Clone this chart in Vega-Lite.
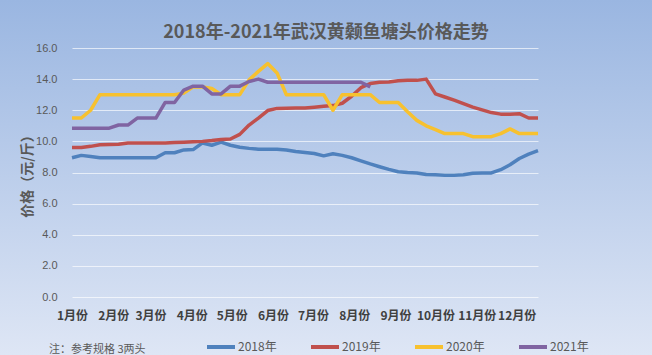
{
  "$schema": "https://vega.github.io/schema/vega-lite/v6.json",
  "width": 652,
  "height": 355,
  "autosize": {"type": "none"},
  "padding": 0,
  "background": "#c4d3ed",
  "title": {
    "text": "2018年-2021年武汉黄颡鱼塘头价格走势",
    "font": "Noto Sans CJK SC",
    "fontSize": 18,
    "fontWeight": "bold",
    "color": "#595959",
    "anchor": "middle",
    "offset": -42
  },
  "config": {
    "font": "Noto Sans CJK SC",
    "view": {
      "stroke": null,
      "fill": {
        "gradient": "linear",
        "x1": 0, "y1": 0, "x2": 0, "y2": 1,
        "stops": [
          {"offset": 0, "color": "#9ab6e1"},
          {"offset": 1, "color": "#dee6f5"}
        ]
      }
    }
  },
  "data": {
    "values": [
      {"d":0,"y":"2018年","p":8.95},{"d":7,"y":"2018年","p":9.1},{"d":14,"y":"2018年","p":9.03},{"d":21,"y":"2018年","p":8.95},{"d":28,"y":"2018年","p":8.95},{"d":35,"y":"2018年","p":8.95},{"d":42,"y":"2018年","p":8.95},{"d":49,"y":"2018年","p":8.95},{"d":56,"y":"2018年","p":8.95},{"d":63,"y":"2018年","p":8.95},
      {"d":70,"y":"2018年","p":9.27},{"d":77,"y":"2018年","p":9.27},{"d":84,"y":"2018年","p":9.45},{"d":91,"y":"2018年","p":9.47},{"d":98,"y":"2018年","p":9.9},{"d":105,"y":"2018年","p":9.75},{"d":112,"y":"2018年","p":9.95},{"d":119,"y":"2018年","p":9.75},{"d":126,"y":"2018年","p":9.62},{"d":133,"y":"2018年","p":9.55},
      {"d":140,"y":"2018年","p":9.5},{"d":147,"y":"2018年","p":9.5},{"d":154,"y":"2018年","p":9.5},{"d":161,"y":"2018年","p":9.45},{"d":168,"y":"2018年","p":9.35},{"d":175,"y":"2018年","p":9.28},{"d":182,"y":"2018年","p":9.22},{"d":189,"y":"2018年","p":9.07},{"d":196,"y":"2018年","p":9.2},{"d":203,"y":"2018年","p":9.1},
      {"d":210,"y":"2018年","p":8.95},{"d":217,"y":"2018年","p":8.75},{"d":224,"y":"2018年","p":8.55},{"d":231,"y":"2018年","p":8.37},{"d":238,"y":"2018年","p":8.2},{"d":245,"y":"2018年","p":8.05},{"d":252,"y":"2018年","p":8.0},{"d":259,"y":"2018年","p":7.97},{"d":266,"y":"2018年","p":7.87},{"d":273,"y":"2018年","p":7.85},
      {"d":280,"y":"2018年","p":7.82},{"d":287,"y":"2018年","p":7.82},{"d":294,"y":"2018年","p":7.85},{"d":301,"y":"2018年","p":7.95},{"d":308,"y":"2018年","p":7.97},{"d":315,"y":"2018年","p":7.97},{"d":322,"y":"2018年","p":8.18},{"d":329,"y":"2018年","p":8.5},{"d":336,"y":"2018年","p":8.9},{"d":343,"y":"2018年","p":9.18},{"d":350,"y":"2018年","p":9.4},

      {"d":0,"y":"2019年","p":9.6},{"d":7,"y":"2019年","p":9.6},{"d":14,"y":"2019年","p":9.68},{"d":21,"y":"2019年","p":9.78},{"d":28,"y":"2019年","p":9.8},{"d":35,"y":"2019年","p":9.82},{"d":42,"y":"2019年","p":9.9},{"d":49,"y":"2019年","p":9.9},{"d":56,"y":"2019年","p":9.9},{"d":63,"y":"2019年","p":9.9},
      {"d":70,"y":"2019年","p":9.9},{"d":77,"y":"2019年","p":9.92},{"d":84,"y":"2019年","p":9.95},{"d":91,"y":"2019年","p":9.97},{"d":98,"y":"2019年","p":10.0},{"d":105,"y":"2019年","p":10.05},{"d":112,"y":"2019年","p":10.12},{"d":119,"y":"2019年","p":10.15},{"d":126,"y":"2019年","p":10.45},{"d":133,"y":"2019年","p":11.05},
      {"d":140,"y":"2019年","p":11.5},{"d":147,"y":"2019年","p":11.98},{"d":154,"y":"2019年","p":12.12},{"d":161,"y":"2019年","p":12.13},{"d":168,"y":"2019年","p":12.15},{"d":175,"y":"2019年","p":12.15},{"d":182,"y":"2019年","p":12.2},{"d":189,"y":"2019年","p":12.25},{"d":196,"y":"2019年","p":12.3},{"d":203,"y":"2019年","p":12.45},
      {"d":210,"y":"2019年","p":12.9},{"d":217,"y":"2019年","p":13.45},{"d":224,"y":"2019年","p":13.72},{"d":231,"y":"2019年","p":13.8},{"d":238,"y":"2019年","p":13.82},{"d":245,"y":"2019年","p":13.9},{"d":252,"y":"2019年","p":13.92},{"d":259,"y":"2019年","p":13.92},{"d":266,"y":"2019年","p":14.0},{"d":273,"y":"2019年","p":13.05},
      {"d":280,"y":"2019年","p":12.85},{"d":287,"y":"2019年","p":12.65},{"d":294,"y":"2019年","p":12.42},{"d":301,"y":"2019年","p":12.2},{"d":308,"y":"2019年","p":12.02},{"d":315,"y":"2019年","p":11.85},{"d":322,"y":"2019年","p":11.75},{"d":329,"y":"2019年","p":11.75},{"d":336,"y":"2019年","p":11.78},{"d":343,"y":"2019年","p":11.5},{"d":350,"y":"2019年","p":11.5},

      {"d":0,"y":"2020年","p":11.5},{"d":7,"y":"2020年","p":11.5},{"d":14,"y":"2020年","p":12.0},{"d":21,"y":"2020年","p":13.0},{"d":28,"y":"2020年","p":13.0},{"d":35,"y":"2020年","p":13.0},{"d":42,"y":"2020年","p":13.0},{"d":49,"y":"2020年","p":13.0},{"d":56,"y":"2020年","p":13.0},{"d":63,"y":"2020年","p":13.0},
      {"d":70,"y":"2020年","p":13.0},{"d":77,"y":"2020年","p":13.0},{"d":84,"y":"2020年","p":13.1},{"d":91,"y":"2020年","p":13.5},{"d":98,"y":"2020年","p":13.5},{"d":105,"y":"2020年","p":13.4},{"d":112,"y":"2020年","p":13.0},{"d":119,"y":"2020年","p":13.0},{"d":126,"y":"2020年","p":13.0},{"d":133,"y":"2020年","p":13.95},
      {"d":140,"y":"2020年","p":14.5},{"d":147,"y":"2020年","p":15.0},{"d":154,"y":"2020年","p":14.4},{"d":161,"y":"2020年","p":13.0},{"d":168,"y":"2020年","p":13.0},{"d":175,"y":"2020年","p":13.0},{"d":182,"y":"2020年","p":13.0},{"d":189,"y":"2020年","p":13.0},{"d":196,"y":"2020年","p":12.0},{"d":203,"y":"2020年","p":13.0},
      {"d":210,"y":"2020年","p":13.0},{"d":217,"y":"2020年","p":13.0},{"d":224,"y":"2020年","p":13.0},{"d":231,"y":"2020年","p":12.5},{"d":238,"y":"2020年","p":12.5},{"d":245,"y":"2020年","p":12.5},{"d":252,"y":"2020年","p":11.9},{"d":259,"y":"2020年","p":11.35},{"d":266,"y":"2020年","p":11.0},{"d":273,"y":"2020年","p":10.75},
      {"d":280,"y":"2020年","p":10.5},{"d":287,"y":"2020年","p":10.5},{"d":294,"y":"2020年","p":10.5},{"d":301,"y":"2020年","p":10.3},{"d":308,"y":"2020年","p":10.3},{"d":315,"y":"2020年","p":10.3},{"d":322,"y":"2020年","p":10.5},{"d":329,"y":"2020年","p":10.8},{"d":336,"y":"2020年","p":10.5},{"d":343,"y":"2020年","p":10.5},{"d":350,"y":"2020年","p":10.5},

      {"d":0,"y":"2021年","p":10.85},{"d":7,"y":"2021年","p":10.85},{"d":14,"y":"2021年","p":10.85},{"d":21,"y":"2021年","p":10.85},{"d":28,"y":"2021年","p":10.85},{"d":35,"y":"2021年","p":11.05},{"d":42,"y":"2021年","p":11.05},{"d":49,"y":"2021年","p":11.5},{"d":56,"y":"2021年","p":11.5},{"d":63,"y":"2021年","p":11.5},
      {"d":70,"y":"2021年","p":12.5},{"d":77,"y":"2021年","p":12.5},{"d":84,"y":"2021年","p":13.3},{"d":91,"y":"2021年","p":13.55},{"d":98,"y":"2021年","p":13.55},{"d":105,"y":"2021年","p":13.05},{"d":112,"y":"2021年","p":13.05},{"d":119,"y":"2021年","p":13.55},{"d":126,"y":"2021年","p":13.55},{"d":133,"y":"2021年","p":13.85},
      {"d":140,"y":"2021年","p":14.0},{"d":147,"y":"2021年","p":13.8},{"d":154,"y":"2021年","p":13.8},{"d":161,"y":"2021年","p":13.8},{"d":168,"y":"2021年","p":13.8},{"d":175,"y":"2021年","p":13.8},{"d":182,"y":"2021年","p":13.8},{"d":189,"y":"2021年","p":13.8},{"d":196,"y":"2021年","p":13.8},{"d":203,"y":"2021年","p":13.8},
      {"d":210,"y":"2021年","p":13.8},{"d":217,"y":"2021年","p":13.8},{"d":224,"y":"2021年","p":13.5}
    ]
  },
  "mark": {"type": "line", "strokeWidth": 3.5, "strokeJoin": "round"},
  "encoding": {
    "x": {
      "field": "d",
      "type": "quantitative",
      "scale": {"domain": [0, 350], "range": [72, 538], "nice": false, "zero": false},
      "axis": {
        "orient": "bottom",
        "offset": -58,
        "values": [0, 31, 59, 90, 120, 151, 181, 212, 243, 273, 304, 334],
        "labelExpr": "(indexof([0,31,59,90,120,151,181,212,243,273,304,334], datum.value) + 1) + '月份'",
        "grid": false,
        "domain": false,
        "ticks": false,
        "title": null,
        "labelFont": "Noto Sans CJK SC",
        "labelFontSize": 12,
        "labelFontWeight": "bold",
        "labelColor": "#404040",
        "labelPadding": 13,
        "labelFlush": false,
        "labelOverlap": false
      }
    },
    "y": {
      "field": "p",
      "type": "quantitative",
      "scale": {"domain": [0, 16], "range": [297, 48], "nice": false, "zero": true},
      "axis": {
        "orient": "left",
        "offset": -72,
        "values": [0, 2, 4, 6, 8, 10, 12, 14, 16],
        "format": ".1f",
        "grid": true,
        "gridColor": "#ffffff",
        "gridOpacity": 0.65,
        "gridWidth": 1,
        "domain": false,
        "ticks": false,
        "labelFont": "Liberation Sans Narrow, Liberation Sans",
        "labelFontSize": 11,
        "labelColor": "#595959",
        "labelPadding": 15,
        "title": "价格（元/斤）",
        "titleFont": "Noto Sans CJK SC",
        "titleFontSize": 14,
        "titleFontWeight": "bold",
        "titleColor": "#595959",
        "titlePadding": 1
      }
    },
    "color": {
      "field": "y",
      "type": "nominal",
      "scale": {
        "domain": ["2018年", "2019年", "2020年", "2021年"],
        "range": ["#4f81bd", "#c0504d", "#f7c12f", "#8064a2"]
      },
      "legend": {
        "orient": "none",
        "legendX": 49,
        "legendY": 331,
        "direction": "horizontal",
        "columns": 4,
        "title": "注：参考规格 3两头",
        "titleOrient": "left",
        "titleAnchor": "end",
        "titleBaseline": "bottom",
        "titleFont": "Noto Sans CJK SC",
        "titleFontSize": 11,
        "titleFontWeight": "normal",
        "titleColor": "#595959",
        "titlePadding": 59,
        "symbolType": "stroke",
        "symbolSize": 784,
        "symbolStrokeWidth": 4,
        "labelFont": "Noto Sans CJK SC",
        "labelFontSize": 12,
        "labelColor": "#595959",
        "labelOffset": 1,
        "columnPadding": 26
      }
    }
  }
}
